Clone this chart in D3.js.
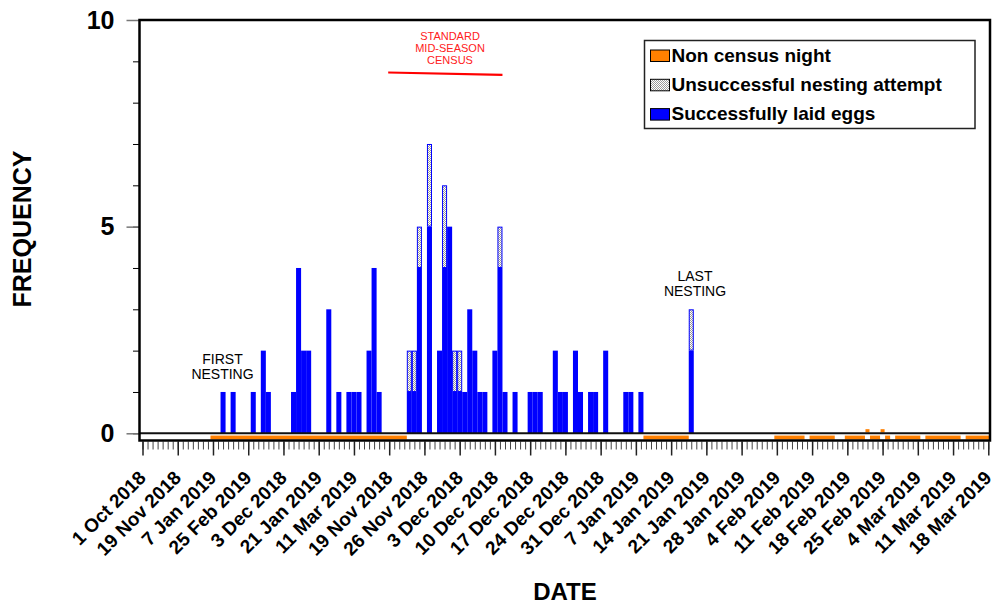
<!DOCTYPE html>
<html>
<head>
<meta charset="utf-8">
<script src="https://cdn.jsdelivr.net/npm/d3@7"></script>
<style>
  body { margin: 0; background: #fff; }
  text { font-family: "Liberation Sans", Arial, sans-serif; }
</style>
</head>
<body>
<svg id="chart" width="995" height="605"></svg>
<script>
// day index counted from 1 Oct 2018 (one minor tick per night)
const days = [16, 18, 22, 24, 25, 30, 31, 32, 33, 37, 39, 41, 42, 43, 45, 46, 47, 53, 54, 55, 57,
  59, 60, 61, 62, 63, 64, 65, 66, 67, 68, 70, 71, 72, 74, 77, 78, 79, 82, 83, 84, 86, 87, 89, 90,
  92, 96, 97, 99, 109];
const laidEggs = [1, 1, 1, 2, 1, 1, 4, 2, 2, 3, 1, 1, 1, 1, 2, 4, 1, 1, 1, 4, 5,
  2, 4, 5, 1, 1, 1, 3, 2, 1, 1, 2, 4, 1, 1, 1, 1, 1, 2, 1, 1, 2, 1, 1, 1,
  2, 1, 1, 1, 2];
const unsuccessful = [0, 0, 0, 0, 0, 0, 0, 0, 0, 0, 0, 0, 0, 0, 0, 0, 0, 1, 1, 1, 2,
  0, 2, 0, 1, 1, 0, 0, 0, 0, 0, 0, 1, 0, 0, 0, 0, 0, 0, 0, 0, 0, 0, 0, 0,
  0, 0, 0, 0, 1];

// non census nights, as runs of days
const nonCensusStart = [14, 100, 126, 133, 140, 145, 148, 150, 156, 164];
const nonCensusEnd = [52, 108, 131, 137, 143, 146, 148, 154, 162, 168];
const nonCensusRaised = [144, 147];

const tickLabels = ['1 Oct 2018', '19 Nov 2018', '7 Jan 2019', '25 Feb 2019', '3 Dec 2018',
  '21 Jan 2019', '11 Mar 2019', '19 Nov 2018', '26 Nov 2018', '3 Dec 2018', '10 Dec 2018',
  '17 Dec 2018', '24 Dec 2018', '31 Dec 2018', '7 Jan 2019', '14 Jan 2019', '21 Jan 2019',
  '28 Jan 2019', '4 Feb 2019', '11 Feb 2019', '18 Feb 2019', '25 Feb 2019', '4 Mar 2019',
  '11 Mar 2019', '18 Mar 2019'];
const yTicks = [0, 5, 10];

const legendLabels = ['Non census night', 'Unsuccessful nesting attempt', 'Successfully laid eggs'];

const BLUE = '#0000ff', ORANGE = '#ff8000';

const svg = d3.select('#chart');

const x = d3.scaleLinear().domain([0, 168]).range([142.5, 988.3]);
const y = d3.scaleLinear().domain([0, 10]).range([433.3, 20]);
const bw = x(1) - x(0);

// checker fill for the unsuccessful attempts
const defs = svg.append('defs');
const pat = defs.append('pattern').attr('id', 'hatch')
  .attr('width', 2).attr('height', 2).attr('patternUnits', 'userSpaceOnUse');
pat.append('rect').attr('width', 2).attr('height', 2).attr('fill', '#fff');
pat.append('rect').attr('width', 1).attr('height', 1).attr('fill', '#9a9a9a');
pat.append('rect').attr('x', 1).attr('y', 1).attr('width', 1).attr('height', 1).attr('fill', '#9a9a9a');

const clip = defs.append('clipPath').attr('id', 'plotclip');
clip.append('rect').attr('x', 140).attr('y', 20).attr('width', 850).attr('height', 421);

const data = days.map((d, i) => ({ day: d, ok: laidEggs[i], bad: unsuccessful[i] }));

const plot = svg.append('g').attr('clip-path', 'url(#plotclip)');

// successful bars
plot.selectAll('rect.ok')
  .data(data)
  .enter()
  .append('rect')
  .attr('class', 'ok')
  .attr('x', d => x(d.day - 0.5))
  .attr('y', d => y(d.ok))
  .attr('width', bw)
  .attr('height', d => y(0) - y(d.ok))
  .attr('fill', BLUE);

// unsuccessful part stacked on top
plot.selectAll('rect.bad')
  .data(data.filter(d => d.bad > 0))
  .enter()
  .append('rect')
  .attr('class', 'bad')
  .attr('x', d => x(d.day - 0.5) + 0.5)
  .attr('y', d => y(d.ok + d.bad) + 0.5)
  .attr('width', bw - 1)
  .attr('height', d => y(d.ok) - y(d.ok + d.bad) - 1)
  .attr('fill', 'url(#hatch)')
  .attr('stroke', BLUE)
  .attr('stroke-width', 1);

// non census strip under the zero line
plot.selectAll('rect.nc')
  .data(nonCensusStart.map((s, i) => [s, nonCensusEnd[i]]))
  .enter()
  .append('rect')
  .attr('x', d => x(d[0] - 0.5))
  .attr('y', y(-0.055))
  .attr('width', d => x(d[1] + 0.5) - x(d[0] - 0.5))
  .attr('height', y(-0.15) - y(-0.055))
  .attr('fill', ORANGE);

plot.selectAll('rect.ncr')
  .data(nonCensusRaised)
  .enter()
  .append('rect')
  .attr('x', d => x(d - 0.5) + 0.5)
  .attr('y', y(0.1))
  .attr('width', bw - 1)
  .attr('height', y(0.02) - y(0.1))
  .attr('fill', ORANGE);

// zero line
svg.append('line')
  .attr('x1', 139.5).attr('x2', 990)
  .attr('y1', y(0)).attr('y2', y(0))
  .attr('stroke', '#111').attr('stroke-width', 2);

// y axis
const yMinor = svg.append('g').attr('transform', 'translate(139.5,0)')
  .call(d3.axisLeft(y).tickValues(d3.range(0, 11)).tickSize(6.5).tickFormat(''));
yMinor.select('.domain').remove();
yMinor.selectAll('line').attr('stroke', '#000');

const yMajor = svg.append('g').attr('transform', 'translate(139.5,0)')
  .call(d3.axisLeft(y).tickValues(yTicks).tickSize(13).tickPadding(12));
yMajor.select('.domain').remove();
yMajor.selectAll('line').attr('stroke', '#777').attr('stroke-width', 1.5);
yMajor.selectAll('text')
  .attr('font-size', 25).attr('font-weight', 'bold').attr('fill', '#000')
  .attr('font-family', '"Liberation Sans", Arial, sans-serif');

// x axis: nightly minor ticks, weekly labels
const xMinor = svg.append('g').attr('transform', 'translate(0,441.5)')
  .call(d3.axisBottom(x).tickValues(d3.range(0, 169)).tickSize(8).tickFormat(''));
xMinor.select('.domain').remove();
xMinor.selectAll('line').attr('stroke', '#444');

const xMajor = svg.append('g').attr('transform', 'translate(0,441.5)')
  .call(d3.axisBottom(x).tickValues(d3.range(0, 169, 7)).tickSize(14)
    .tickFormat(d => tickLabels[d / 7]));
xMajor.select('.domain').remove();
xMajor.selectAll('line').attr('stroke', '#222').attr('stroke-width', 1.5);
xMajor.selectAll('text')
  .attr('font-size', 19).attr('font-weight', 'bold').attr('fill', '#000')
  .attr('font-family', '"Liberation Sans", Arial, sans-serif')
  .attr('text-anchor', 'end')
  .attr('dy', 0)
  .attr('y', 0)
  .attr('transform', 'translate(4,37.5) rotate(-45)');

// frame
svg.append('rect')
  .attr('x', 139.5).attr('y', 20).attr('width', 850.5).attr('height', 420.5)
  .attr('fill', 'none').attr('stroke', '#000').attr('stroke-width', 2.5);

// axis titles
svg.append('text')
  .attr('x', 565).attr('y', 600)
  .attr('text-anchor', 'middle')
  .attr('font-size', 24).attr('font-weight', 'bold')
  .text('DATE');

svg.append('text')
  .attr('transform', 'translate(31,229) rotate(-90)')
  .attr('text-anchor', 'middle')
  .attr('font-size', 25).attr('font-weight', 'bold')
  .text('FREQUENCY');

// annotations
function note(lines, cx, y0, size, color) {
  const t = svg.append('text')
    .attr('text-anchor', 'middle')
    .attr('font-size', size)
    .attr('fill', color);
  lines.forEach((s, i) => {
    t.append('tspan').attr('x', cx).attr('y', y0 + i * size * 1.1).text(s);
  });
}
note(['FIRST', 'NESTING'], 222.5, 364, 14, '#000');
note(['LAST', 'NESTING'], 695, 281, 14, '#000');
note(['STANDARD', 'MID-SEASON', 'CENSUS'], 450, 40, 11, '#ff2020');

// census period bar
svg.append('line')
  .attr('x1', x(48.8)).attr('y1', y(8.73))
  .attr('x2', x(71.5)).attr('y2', y(8.67))
  .attr('stroke', '#ff0000').attr('stroke-width', 2.2);

// legend
const lg = svg.append('g');
lg.append('rect')
  .attr('x', 644.5).attr('y', 40.5).attr('width', 330.5).attr('height', 88)
  .attr('fill', '#fff').attr('stroke', '#222').attr('stroke-width', 1.5);
const fills = [ORANGE, 'url(#hatch)', BLUE];
legendLabels.forEach((s, i) => {
  const yy = 50 + i * 29.3;
  lg.append('rect')
    .attr('x', 650.5).attr('y', yy).attr('width', 19).attr('height', 11.5)
    .attr('fill', fills[i]).attr('stroke', '#000').attr('stroke-width', 1);
  lg.append('text')
    .attr('x', 671.5).attr('y', yy + 11.7)
    .attr('font-size', 19).attr('font-weight', 'bold')
    .text(s);
});
</script>
</body>
</html>
